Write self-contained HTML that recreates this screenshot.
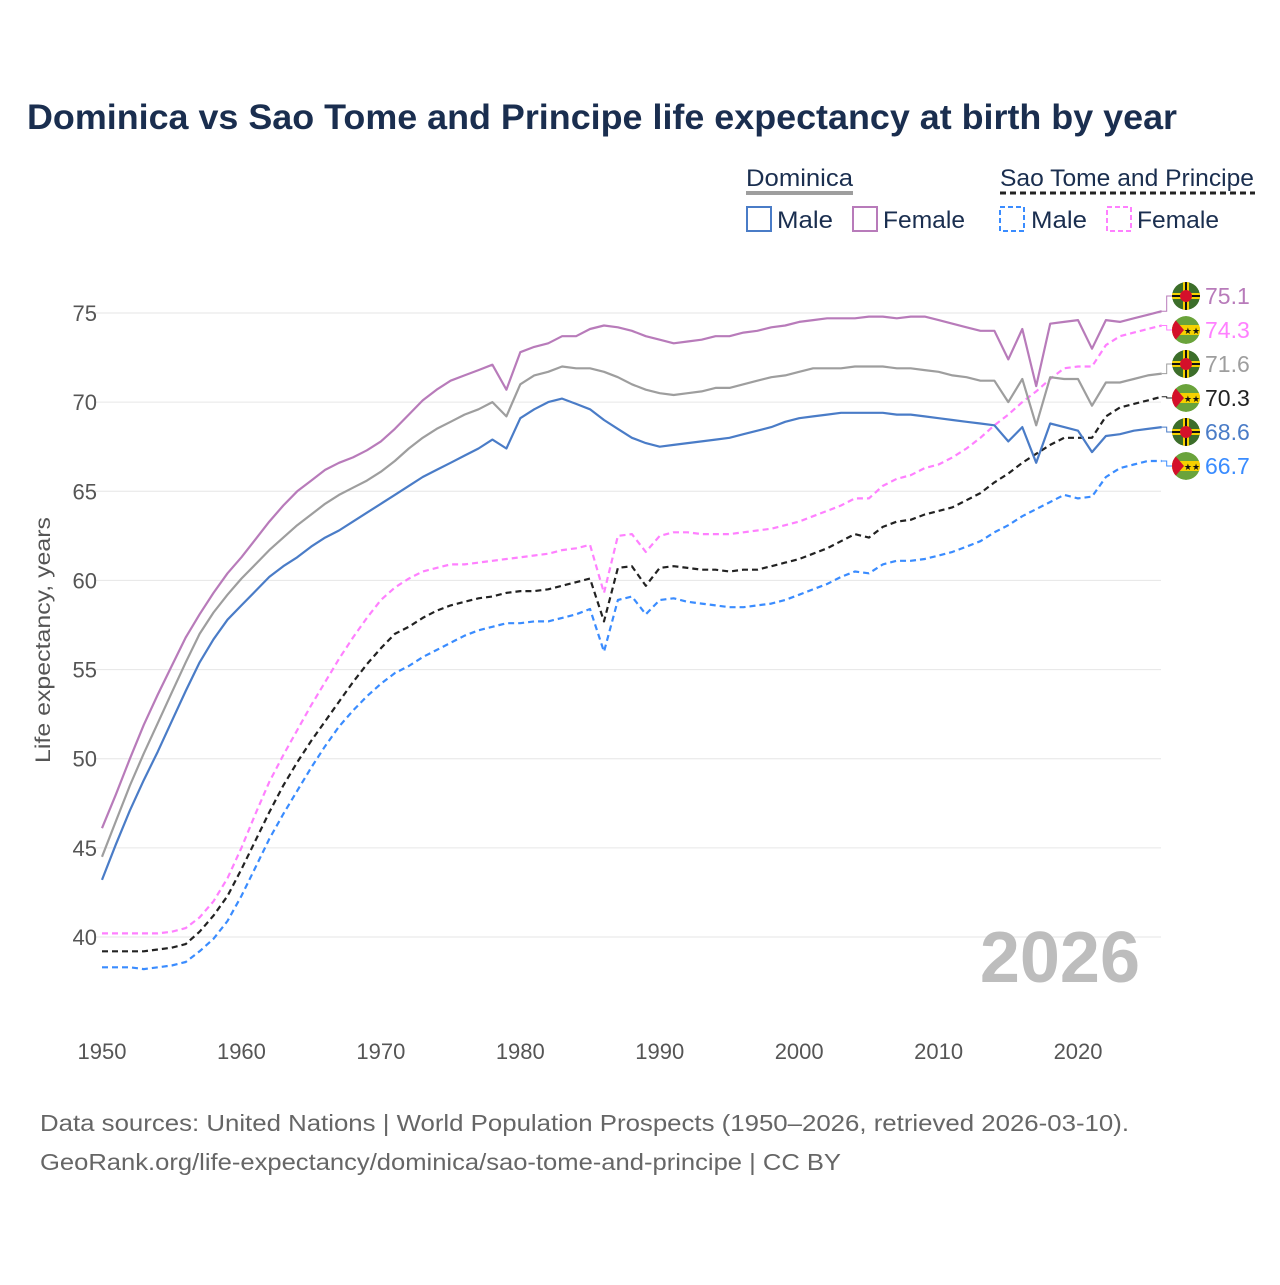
<!DOCTYPE html>
<html><head><meta charset="utf-8">
<style>
body{margin:0;background:#fff;width:1280px;height:1280px;overflow:hidden;font-family:"Liberation Sans",sans-serif}
</style></head>
<body>
<svg id="chart" width="1280" height="1280" xmlns="http://www.w3.org/2000/svg" font-family="Liberation Sans, sans-serif">
<defs></defs>
<text x="27" y="129" font-size="35" font-weight="bold" fill="#1a2e4f" textLength="1150" lengthAdjust="spacingAndGlyphs">Dominica vs Sao Tome and Principe life expectancy at birth by year</text>
<g>
<text x="746" y="186" font-size="24" fill="#1a2e4f" textLength="107" lengthAdjust="spacingAndGlyphs">Dominica</text>
<line x1="746" y1="193" x2="853" y2="193" stroke="#9e9e9e" stroke-width="4"/>
<rect x="747" y="207" width="24" height="24" fill="none" stroke="#4a7cc7" stroke-width="2"/>
<text x="777" y="228" font-size="24" fill="#1a2e4f" textLength="56" lengthAdjust="spacingAndGlyphs">Male</text>
<rect x="853" y="207" width="24" height="24" fill="none" stroke="#b87bba" stroke-width="2"/>
<text x="883" y="228" font-size="24" fill="#1a2e4f" textLength="82" lengthAdjust="spacingAndGlyphs">Female</text>
<text x="1000" y="186" font-size="24" fill="#1a2e4f" textLength="254" lengthAdjust="spacingAndGlyphs">Sao Tome and Principe</text>
<line x1="1000" y1="193" x2="1255" y2="193" stroke="#222" stroke-width="3" stroke-dasharray="6,4"/>
<rect x="1000" y="207" width="24" height="24" fill="none" stroke="#3a8cff" stroke-width="2" stroke-dasharray="5,3"/>
<text x="1031" y="228" font-size="24" fill="#1a2e4f" textLength="56" lengthAdjust="spacingAndGlyphs">Male</text>
<rect x="1107" y="207" width="24" height="24" fill="none" stroke="#ff80ff" stroke-width="2" stroke-dasharray="5,3"/>
<text x="1137" y="228" font-size="24" fill="#1a2e4f" textLength="82" lengthAdjust="spacingAndGlyphs">Female</text>
</g>
<g id="grid"></g>
<g id="lines"></g>
<g id="endlabels"></g>
<text transform="translate(50,640) rotate(-90)" text-anchor="middle" font-size="21" fill="#555" textLength="246" lengthAdjust="spacingAndGlyphs">Life expectancy, years</text>
<text x="1140" y="982" text-anchor="end" font-size="72" font-weight="bold" fill="#bdbdbd">2026</text>
<text x="40" y="1131" font-size="23" fill="#666" textLength="1089" lengthAdjust="spacingAndGlyphs">Data sources: United Nations | World Population Prospects (1950–2026, retrieved 2026-03-10).</text>
<text x="40" y="1170" font-size="23" fill="#666" textLength="801" lengthAdjust="spacingAndGlyphs">GeoRank.org/life-expectancy/dominica/sao-tome-and-principe | CC BY</text>
</svg>
<script>
const years=[];for(let y=1950;y<=2026;y++)years.push(y);
const yTicks=[40,45,50,55,60,65,70,75];
const xTicks=[1950,1960,1970,1980,1990,2000,2010,2020];
const domTotal=[44.5,46.5,48.5,50.3,52,53.7,55.4,57,58.2,59.2,60.1,60.9,61.7,62.4,63.1,63.7,64.3,64.8,65.2,65.6,66.1,66.7,67.4,68.0,68.5,68.9,69.3,69.6,70.0,69.2,71.0,71.5,71.7,72.0,71.9,71.9,71.7,71.4,71.0,70.7,70.5,70.4,70.5,70.6,70.8,70.8,71.0,71.2,71.4,71.5,71.7,71.9,71.9,71.9,72.0,72.0,72.0,71.9,71.9,71.8,71.7,71.5,71.4,71.2,71.2,70.0,71.3,68.7,71.4,71.3,71.3,69.8,71.1,71.1,71.3,71.5,71.6];
const domFemale=[46.1,48.0,50.0,51.9,53.6,55.2,56.8,58.1,59.3,60.4,61.3,62.3,63.3,64.2,65.0,65.6,66.2,66.6,66.9,67.3,67.8,68.5,69.3,70.1,70.7,71.2,71.5,71.8,72.1,70.7,72.8,73.1,73.3,73.7,73.7,74.1,74.3,74.2,74.0,73.7,73.5,73.3,73.4,73.5,73.7,73.7,73.9,74.0,74.2,74.3,74.5,74.6,74.7,74.7,74.7,74.8,74.8,74.7,74.8,74.8,74.6,74.4,74.2,74.0,74.0,72.4,74.1,70.9,74.4,74.5,74.6,73.0,74.6,74.5,74.7,74.9,75.1];
const domMale=[43.2,45.2,47.1,48.8,50.4,52.1,53.8,55.4,56.7,57.8,58.6,59.4,60.2,60.8,61.3,61.9,62.4,62.8,63.3,63.8,64.3,64.8,65.3,65.8,66.2,66.6,67.0,67.4,67.9,67.4,69.1,69.6,70.0,70.2,69.9,69.6,69.0,68.5,68.0,67.7,67.5,67.6,67.7,67.8,67.9,68.0,68.2,68.4,68.6,68.9,69.1,69.2,69.3,69.4,69.4,69.4,69.4,69.3,69.3,69.2,69.1,69.0,68.9,68.8,68.7,67.8,68.6,66.6,68.8,68.6,68.4,67.2,68.1,68.2,68.4,68.5,68.6];
const stpTotal=[39.2,39.2,39.2,39.2,39.3,39.4,39.6,40.3,41.2,42.3,43.8,45.4,47.0,48.5,49.8,51.0,52.1,53.2,54.3,55.3,56.2,57.0,57.4,57.9,58.3,58.6,58.8,59.0,59.1,59.3,59.4,59.4,59.5,59.7,59.9,60.1,57.7,60.7,60.8,59.7,60.7,60.8,60.7,60.6,60.6,60.5,60.6,60.6,60.8,61.0,61.2,61.5,61.8,62.2,62.6,62.4,63.0,63.3,63.4,63.7,63.9,64.1,64.5,64.9,65.5,66.0,66.6,67.1,67.6,68.0,68.0,68.0,69.2,69.7,69.9,70.1,70.3];
const stpFemale=[40.2,40.2,40.2,40.2,40.2,40.3,40.5,41.1,42.0,43.3,45.0,46.9,48.7,50.2,51.6,53.0,54.3,55.6,56.8,57.9,58.9,59.6,60.1,60.5,60.7,60.9,60.9,61.0,61.1,61.2,61.3,61.4,61.5,61.7,61.8,62.0,59.3,62.5,62.6,61.6,62.5,62.7,62.7,62.6,62.6,62.6,62.7,62.8,62.9,63.1,63.3,63.6,63.9,64.2,64.6,64.6,65.3,65.7,65.9,66.3,66.5,66.9,67.4,68.0,68.7,69.3,70.0,70.6,71.3,71.9,72.0,72.0,73.2,73.7,73.9,74.1,74.3];
const stpMale=[38.3,38.3,38.3,38.2,38.3,38.4,38.6,39.2,39.9,40.9,42.3,43.9,45.5,46.9,48.2,49.5,50.7,51.8,52.7,53.5,54.2,54.8,55.2,55.7,56.1,56.5,56.9,57.2,57.4,57.6,57.6,57.7,57.7,57.9,58.1,58.4,56.0,58.9,59.1,58.1,58.9,59.0,58.8,58.7,58.6,58.5,58.5,58.6,58.7,58.9,59.2,59.5,59.8,60.2,60.5,60.4,60.9,61.1,61.1,61.2,61.4,61.6,61.9,62.2,62.7,63.1,63.6,64.0,64.4,64.8,64.6,64.7,65.8,66.3,66.5,66.7,66.7];

const NS="http://www.w3.org/2000/svg";
const X0=102,X1=1161.7,Y40=937,Y75=313;
const xs=y=>X0+(y-1950)*(X1-X0)/76;
const ys=v=>Y40+(v-40)*(Y75-Y40)/35;
function mk(tag,attrs,parent){const e=document.createElementNS(NS,tag);for(const k in attrs)e.setAttribute(k,attrs[k]);parent.appendChild(e);return e;}
const grid=document.getElementById('grid');
yTicks.forEach(t=>{
  const l=mk('line',{x1:95,x2:1161,y1:ys(t),y2:ys(t),stroke:'#e6e6e6','stroke-width':1},grid);
  
  
  const tx=mk('text',{x:97,y:ys(t)+8,'text-anchor':'end','font-size':22,fill:'#555'},grid);
  tx.textContent=t;
  
  
});
xTicks.forEach(t=>{
  const tx=mk('text',{x:xs(t),y:1059,'text-anchor':'middle','font-size':22,fill:'#555'},grid);
  tx.textContent=t;
  
  
});
const series=[
 {name:'dominica-female',d:domFemale,c:'#b87bba',dash:null,flag:'dm'},
 {name:'stp-female',d:stpFemale,c:'#ff80ff',dash:'6,4',flag:'st'},
 {name:'dominica-total',d:domTotal,c:'#9e9e9e',dash:null,flag:'dm'},
 {name:'stp-total',d:stpTotal,c:'#222',dash:'6,4',flag:'st'},
 {name:'dominica-male',d:domMale,c:'#4a7cc7',dash:null,flag:'dm'},
 {name:'stp-male',d:stpMale,c:'#3a8cff',dash:'6,4',flag:'st'}
];
const lines=document.getElementById('lines');
const el=document.getElementById('endlabels');
const defs=document.querySelector('defs');
series.forEach((s,i)=>{
  const pts=s.d.map((v,j)=>xs(years[j]).toFixed(1)+','+ys(v).toFixed(1)).join(' ');
  const a={points:pts,fill:'none',stroke:s.c,'stroke-width':2.2,'stroke-linejoin':'round'};
  if(s.dash)a['stroke-dasharray']=s.dash;
  const p=mk('polyline',a,lines);
  
  
  const ly=296+i*34;
  const last=s.d[s.d.length-1];
  const lx=xs(2026);
  mk('polyline',{points:`${lx},${ys(last)} ${lx+5},${ys(last)} ${lx+5},${ly} ${lx+12},${ly}`,fill:'none',stroke:s.c,'stroke-width':1},el);
  const cx=1186;
  const cp=mk('clipPath',{id:'clip'+i},defs);
  mk('circle',{cx:cx,cy:ly,r:14},cp);
  const g=mk('g',{'clip-path':'url(#clip'+i+')'},el);
  
  
  mk('circle',{cx:cx,cy:ly,r:14,fill:s.flag==='dm'?'#3c6e2a':'#6aa33b'},g);
  if(s.flag==='dm'){
    mk('rect',{x:cx-14,y:ly-3,width:28,height:6,fill:'#f5d100'},g);
    mk('rect',{x:cx-3,y:ly-14,width:6,height:28,fill:'#f5d100'},g);
    mk('rect',{x:cx-14,y:ly-1,width:28,height:2,fill:'#111'},g);
    mk('rect',{x:cx-1,y:ly-14,width:2,height:28,fill:'#111'},g);
    mk('circle',{cx:cx,cy:ly,r:6,fill:'#d4102a'},g);
  }else{
    mk('rect',{x:cx-14,y:ly-5,width:28,height:10,fill:'#f5d100'},g);
    mk('path',{d:`M${cx-14},${ly-14} L${cx-2},${ly} L${cx-14},${ly+14} Z`,fill:'#d4102a'},g);
    const st=mk('text',{x:cx+6,y:ly+4,'text-anchor':'middle','font-size':9,fill:'#111'},g);st.textContent='★★';
  }
  const t=mk('text',{x:1205,y:ly+8,'font-size':23,fill:s.c},el);
  t.textContent=last.toFixed(1);
  
  
});
</script>
</body></html>
